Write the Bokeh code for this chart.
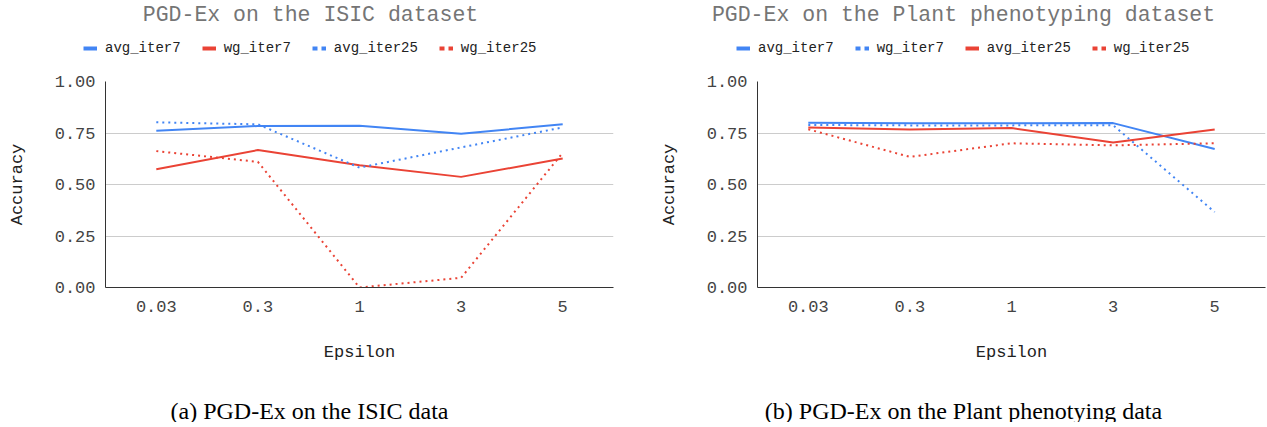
from bokeh.plotting import figure
from bokeh.models import (FactorRange, Range1d, Legend, LegendItem, Label,
                          FixedTicker, NumeralTickFormatter)
from bokeh.layouts import row, column
from bokeh.embed import file_html
from bokeh.resources import INLINE

epsilon = ["0.03", "0.3", "1", "3", "5"]

isic_avg_iter7 = [0.761, 0.784, 0.785, 0.746, 0.793]
isic_wg_iter7 = [0.574, 0.667, 0.593, 0.537, 0.626]
isic_avg_iter25 = [0.802, 0.792, 0.582, 0.680, 0.777]
isic_wg_iter25 = [0.662, 0.610, 0.000, 0.047, 0.654]

plant_avg_iter7 = [0.800, 0.797, 0.797, 0.798, 0.672]
plant_wg_iter7 = [0.789, 0.787, 0.787, 0.788, 0.366]
plant_avg_iter25 = [0.777, 0.767, 0.774, 0.704, 0.767]
plant_wg_iter25 = [0.768, 0.634, 0.700, 0.690, 0.700]

y_ticks = [0.0, 0.25, 0.5, 0.75, 1.0]

BLUE = "#4285F4"
RED = "#EA4335"
MONO = "Liberation Mono"
NAN = float("nan")

HEAD_H = 71
FOOT_H = 50


def blank(width, height):
    f = figure(width=width, height=height, x_range=Range1d(0, width),
               y_range=Range1d(0, height), x_axis_type=None,
               y_axis_type=None, output_backend="svg",
               toolbar_location=None, min_border=0, title_location=None)
    f.outline_line_color = None
    f.grid.visible = False
    if "frame_align" in f.properties():
        f.frame_align = False
    return f


def make_panel(title, caption, series, width, border_left, border_right,
               title_cx, legend_x, caption_cx):
    # header: chart title + legend
    h = blank(width, HEAD_H)
    h.add_layout(Label(x=title_cx, y=HEAD_H - 14, text=title,
                       text_align="center", text_baseline="middle",
                       text_font=MONO, text_font_size="21.5px",
                       text_color="#757575"))
    items = []
    for name, vals, color, dotted in series:
        if dotted:
            swatch = h.line([NAN], [NAN], line_color=color, line_width=4,
                            line_dash="5 4")
        else:
            swatch = h.line([NAN], [NAN], line_color=color, line_width=4)
        items.append(LegendItem(label=name, renderers=[swatch]))
    legend = Legend(items=items, orientation="horizontal",
                    location=(legend_x, HEAD_H - 48 - 8), padding=0,
                    margin=0, spacing=21, label_standoff=8, glyph_width=14,
                    glyph_height=14, label_text_font=MONO,
                    label_text_font_size="14px", label_text_color="#222222",
                    border_line_color=None, background_fill_alpha=0,
                    inactive_fill_alpha=0)
    h.add_layout(legend, "center")

    # main plot
    p = figure(x_range=FactorRange(*epsilon), y_range=Range1d(0, 1),
               width=width, height=10 + 206 + 85, output_backend="svg",
               toolbar_location=None, title_location=None,
               min_border_left=border_left, min_border_right=border_right,
               min_border_top=10, min_border_bottom=85)
    p.outline_line_color = None
    p.xgrid.grid_line_color = None
    p.ygrid.grid_line_color = "#cccccc"
    p.yaxis.ticker = FixedTicker(ticks=y_ticks)
    p.yaxis.formatter = NumeralTickFormatter(format="0.00")
    for ax in (p.xaxis[0], p.yaxis[0]):
        ax.axis_line_color = "#333333"
        ax.major_tick_line_color = None
        ax.minor_tick_line_color = None
        ax.major_label_text_font = MONO
        ax.major_label_text_font_size = "17px"
        ax.major_label_text_color = "#444444"
        ax.axis_label_text_font = MONO
        ax.axis_label_text_font_size = "17px"
        ax.axis_label_text_font_style = "normal"
        ax.axis_label_text_color = "#222222"
    p.yaxis.axis_label = "Accuracy"
    p.xaxis.axis_label = "Epsilon"
    p.yaxis.major_tick_out = 0
    p.yaxis.major_label_standoff = 10
    p.yaxis.axis_label_standoff = 25
    p.xaxis.major_label_standoff = 7
    p.xaxis.axis_label_standoff = 28

    for name, vals, color, dotted in series:
        if dotted:
            p.line(epsilon, vals, line_color=color, line_width=2,
                   line_dash="2 4")
        else:
            p.line(epsilon, vals, line_color=color, line_width=2)

    # footer: caption
    f = blank(width, FOOT_H)
    f.add_layout(Label(x=caption_cx, y=FOOT_H - 38, text=caption,
                       text_align="center", text_baseline="middle",
                       text_font="Liberation Serif", text_font_size="24px",
                       text_color="#000000"))
    return column(h, p, f, spacing=0)


c1 = make_panel("PGD-Ex on the ISIC dataset", "(a) PGD-Ex on the ISIC data",
                [("avg_iter7", isic_avg_iter7, BLUE, False),
                 ("wg_iter7", isic_wg_iter7, RED, False),
                 ("avg_iter25", isic_avg_iter25, BLUE, True),
                 ("wg_iter25", isic_wg_iter25, RED, True)],
                width=620, border_left=105, border_right=7,
                title_cx=310, legend_x=83, caption_cx=309)

c2 = make_panel("PGD-Ex on the Plant phenotyping dataset",
                "(b) PGD-Ex on the Plant phenotying data",
                [("avg_iter7", plant_avg_iter7, BLUE, False),
                 ("wg_iter7", plant_wg_iter7, BLUE, True),
                 ("avg_iter25", plant_avg_iter25, RED, False),
                 ("wg_iter25", plant_wg_iter25, RED, True)],
                width=647, border_left=137, border_right=2,
                title_cx=343, legend_x=116, caption_cx=343)

layout = row(c1, c2, spacing=0)
open("out.html", "w").write(file_html(layout, INLINE))
